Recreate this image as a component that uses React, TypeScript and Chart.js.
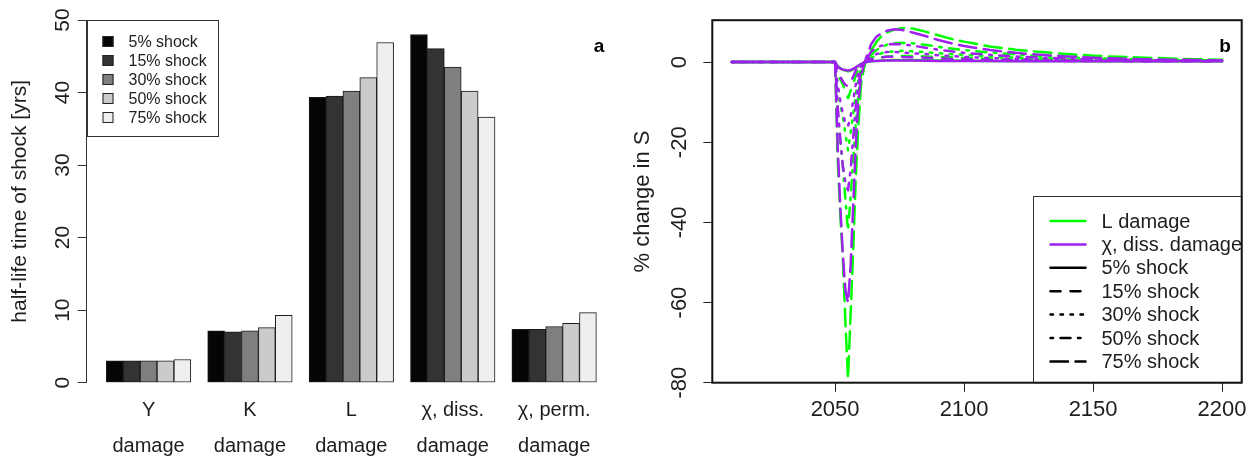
import React, { useEffect, useRef } from "react";
import { Chart, registerables } from "chart.js";

Chart.register(...registerables);

const FONT = "'Liberation Sans', Arial, Helvetica, sans-serif";
const INK = "#1e1e1e";

// ---------------- Panel a: half-life bars ----------------
const damageTypes: string[][] = [
  ["Y", "damage"],
  ["K", "damage"],
  ["L", "damage"],
  ["\u03c7, diss.", "damage"],
  ["\u03c7, perm.", "damage"],
];
const shockLabels = ["5% shock", "15% shock", "30% shock", "50% shock", "75% shock"];
const halfLife5 = [3.0, 7.15, 39.35, 48.0, 7.35];
const halfLife15 = [3.0, 7.0, 39.5, 46.05, 7.35];
const halfLife30 = [3.0, 7.15, 40.2, 43.5, 7.75];
const halfLife50 = [3.0, 7.6, 42.05, 40.2, 8.2];
const halfLife75 = [3.2, 9.3, 46.9, 36.6, 9.65];
const barFills = ["#050505", "#333333", "#7f7f7f", "#cbcbcb", "#efefef"];
const halfLifeTicks = [0, 10, 20, 30, 40, 50];

// ---------------- Panel b: % change in S ----------------
const years = [
  2010, 2050, 2051, 2052, 2053, 2054, 2055, 2056, 2057, 2058, 2059, 2060, 2061, 2062,
  2064, 2066, 2068, 2070, 2073, 2076, 2080, 2085, 2090, 2095, 2100, 2110, 2120, 2130,
  2140, 2150, 2160, 2170, 2180, 2190, 2200,
];
const lDamage75 = [0, 0, -24, -38, -49, -65, -79, -63, -47, -29, -16, -6, -2, 0.5, 3.0, 5.0, 6.5, 7.4, 8.1, 8.5, 8.4, 7.6, 6.7, 5.8, 5.1, 3.9, 3.1, 2.5, 2.0, 1.6, 1.3, 1.1, 0.9, 0.7, 0.6];
const lDamage50 = [0, 0, -12.6, -20, -26, -34.4, -42, -33.6, -25, -15.5, -8.4, -3.4, -1.2, 0.3, 1.8, 3.0, 3.8, 4.3, 4.7, 4.8, 4.7, 4.3, 3.8, 3.4, 3.0, 2.4, 1.9, 1.5, 1.2, 1.0, 0.8, 0.7, 0.6, 0.5, 0.4];
const lDamage30 = [0, 0, -6.6, -10.6, -13.6, -18, -22, -17.6, -13.2, -8.1, -4.4, -1.8, -0.6, 0.2, 1.0, 1.7, 2.2, 2.5, 2.7, 2.8, 2.7, 2.5, 2.2, 2.0, 1.8, 1.4, 1.1, 0.9, 0.7, 0.6, 0.5, 0.4, 0.35, 0.3, 0.3];
const lDamage15 = [0, 0, -2.7, -4.3, -5.6, -7.4, -9, -7.2, -5.4, -3.3, -1.8, -0.7, -0.3, 0.1, 0.5, 0.9, 1.2, 1.4, 1.5, 1.5, 1.5, 1.4, 1.3, 1.2, 1.0, 0.8, 0.7, 0.6, 0.5, 0.4, 0.35, 0.3, 0.3, 0.25, 0.25];
const lDamage5 = [0, 0, -1.0, -1.5, -1.9, -2.1, -2.3, -2.1, -1.8, -1.4, -1.0, -0.5, -0.2, 0.0, 0.2, 0.3, 0.4, 0.45, 0.5, 0.5, 0.5, 0.45, 0.4, 0.4, 0.35, 0.3, 0.3, 0.25, 0.25, 0.2, 0.2, 0.2, 0.2, 0.2, 0.2];
const chiDamage75 = [0, 0, -21, -36, -48, -57, -60, -51, -36, -21, -10, -4, -1, 1, 4.5, 6.3, 7.2, 7.8, 8.2, 8.0, 7.4, 6.5, 5.5, 4.7, 4.0, 3.0, 2.3, 1.8, 1.4, 1.1, 0.9, 0.7, 0.6, 0.5, 0.4];
const chiDamage50 = [0, 0, -11, -19, -26, -30, -32, -27, -19, -11, -5.5, -2.2, -0.6, 0.6, 2.6, 3.6, 4.1, 4.4, 4.5, 4.4, 4.1, 3.6, 3.1, 2.7, 2.3, 1.8, 1.4, 1.1, 0.9, 0.7, 0.6, 0.5, 0.4, 0.35, 0.3];
const chiDamage30 = [0, 0, -5.6, -9.6, -12.8, -15.2, -16, -13.6, -9.6, -5.6, -2.7, -1.1, -0.3, 0.3, 1.4, 2.0, 2.3, 2.5, 2.5, 2.4, 2.2, 2.0, 1.7, 1.5, 1.3, 1.0, 0.8, 0.6, 0.5, 0.4, 0.35, 0.3, 0.3, 0.25, 0.25];
const chiDamage15 = [0, 0, -2.1, -3.6, -4.8, -5.7, -6, -5.1, -3.6, -2.1, -1.0, -0.4, -0.1, 0.1, 0.7, 1.0, 1.2, 1.3, 1.3, 1.3, 1.2, 1.1, 0.9, 0.8, 0.7, 0.55, 0.45, 0.4, 0.3, 0.3, 0.25, 0.2, 0.2, 0.2, 0.2];
const chiDamage5 = [0, 0, -1.1, -1.6, -1.9, -2.0, -2.1, -2.0, -1.7, -1.3, -0.9, -0.5, -0.2, 0.0, 0.2, 0.3, 0.35, 0.4, 0.4, 0.4, 0.4, 0.35, 0.3, 0.3, 0.3, 0.25, 0.2, 0.2, 0.2, 0.2, 0.2, 0.2, 0.2, 0.2, 0.2];
const pctTicks = [-80, -60, -40, -20, 0];
const yearTicks = [2050, 2100, 2150, 2200];
const lColor = "#00ff00";
const chiColor = "#a020f0";
const lineLegend = ["L damage", "\u03c7, diss. damage"];

const LWD = 2.5;
const dashPatterns: number[][] = [
  [],
  [4 * LWD, 4 * LWD],
  [1 * LWD, 3 * LWD],
  [1 * LWD, 3 * LWD, 4 * LWD, 3 * LWD],
  [7 * LWD, 3 * LWD],
];

const panelAExtras = {
  id: "panelAExtras",
  afterDraw(chart: any) {
    const { ctx, chartArea } = chart;
    ctx.save();
    const bx = Math.round(chartArea.left) + 0.5;
    const by = Math.round(chartArea.top) + 0.5;
    const bw = 131;
    const bh = 116;
    ctx.fillStyle = "#ffffff";
    ctx.fillRect(bx, by, bw, bh);
    ctx.strokeStyle = "#333";
    ctx.lineWidth = 1;
    ctx.strokeRect(bx, by, bw, bh);
    ctx.font = `16px ${FONT}`;
    ctx.textBaseline = "middle";
    ctx.textAlign = "left";
    shockLabels.forEach((lab, i) => {
      const y = by + 21 + 19 * i;
      ctx.fillStyle = barFills[i];
      ctx.fillRect(bx + 15, y - 5.5, 11, 11);
      ctx.strokeStyle = "#222";
      ctx.strokeRect(bx + 15.5, y - 5, 10, 10);
      ctx.fillStyle = INK;
      ctx.fillText(lab, bx + 41, y + 1);
    });
    ctx.font = `bold 19px ${FONT}`;
    ctx.textAlign = "center";
    ctx.fillStyle = "#000";
    ctx.fillText("a", 599, 47);
    ctx.restore();
  },
};

const panelBExtras = {
  id: "panelBExtras",
  afterDraw(chart: any) {
    const { ctx, chartArea } = chart;
    const { left, top, right, bottom } = chartArea;
    ctx.save();
    // legend
    const lx = 413.5;
    const ly = 196.5;
    ctx.fillStyle = "#ffffff";
    ctx.fillRect(lx, ly, right - lx, bottom - ly);
    ctx.strokeStyle = "#333";
    ctx.lineWidth = 1;
    ctx.strokeRect(lx, ly, right - lx, bottom - ly);
    ctx.save();
    ctx.beginPath();
    ctx.rect(lx, ly, right - lx, bottom - ly);
    ctx.clip();
    const items = [
      { label: lineLegend[0], color: lColor, dash: dashPatterns[0] },
      { label: lineLegend[1], color: chiColor, dash: dashPatterns[0] },
      ...shockLabels.map((s, i) => ({ label: s, color: "#000", dash: dashPatterns[i] })),
    ];
    ctx.font = `20px ${FONT}`;
    ctx.textBaseline = "middle";
    ctx.textAlign = "left";
    items.forEach((it, i) => {
      const y = 221 + 23.4 * i;
      ctx.strokeStyle = it.color;
      ctx.lineWidth = LWD;
      ctx.lineCap = "round";
      ctx.setLineDash(it.dash);
      ctx.beginPath();
      ctx.moveTo(lx + 17, y);
      ctx.lineTo(lx + 52, y);
      ctx.stroke();
      ctx.setLineDash([]);
      ctx.fillStyle = INK;
      ctx.fillText(it.label, lx + 68, y + 1);
    });
    ctx.restore();
    // box
    ctx.strokeStyle = "#111";
    ctx.lineWidth = 2;
    ctx.setLineDash([]);
    ctx.strokeRect(left, top, right - left, bottom - top);
    ctx.font = `bold 19px ${FONT}`;
    ctx.textAlign = "center";
    ctx.textBaseline = "middle";
    ctx.fillStyle = "#000";
    ctx.fillText("b", 605, 47);
    ctx.restore();
  },
};

export default function App() {
  const leftRef = useRef<HTMLCanvasElement | null>(null);
  const rightRef = useRef<HTMLCanvasElement | null>(null);

  useEffect(() => {
    const halfLifeSeries = [halfLife5, halfLife15, halfLife30, halfLife50, halfLife75];
    const left = new Chart(leftRef.current as HTMLCanvasElement, {
      type: "bar",
      data: {
        datasets: halfLifeSeries.map((vals, s) => ({
          label: shockLabels[s],
          data: vals.map((v, g) => ({ x: g * 6 + s + 1.5, y: v })),
          backgroundColor: barFills[s],
          borderColor: "#1a1a1a",
          borderWidth: 1,
          borderSkipped: false,
          grouped: false,
          barPercentage: 1,
          categoryPercentage: 1,
        })),
      },
      options: {
        responsive: false,
        animation: false,
        devicePixelRatio: 1,
        layout: { padding: { left: 0, right: 4, top: 20, bottom: 0 } },
        plugins: { legend: { display: false }, tooltip: { enabled: false } },
        scales: {
          x: {
            type: "linear",
            offset: false,
            min: -0.16,
            max: 31.16,
            grid: { display: false, drawTicks: false, offset: false },
            border: { display: false },
            afterBuildTicks: (s: any) => {
              s.ticks = damageTypes.map((_, g) => ({ value: g * 6 + 3.5 }));
            },
            ticks: {
              callback: (_v: any, i: number) => damageTypes[i],
              font: { family: FONT, size: 20, lineHeight: 1.835 },
              color: INK,
              padding: 9,
              autoSkip: false,
              maxRotation: 0,
            },
            afterFit: (s: any) => {
              s.height = 76.3;
            },
          },
          y: {
            type: "linear",
            min: 0,
            max: 50,
            afterBuildTicks: (s: any) => {
              s.ticks = halfLifeTicks.map((v) => ({ value: v }));
            },
            grid: { drawOnChartArea: false, drawTicks: true, tickLength: 9, color: "#333" },
            border: { display: true, color: "#333", width: 1 },
            ticks: {
              minRotation: 90,
              maxRotation: 90,
              crossAlign: "center",
              padding: 3,
              autoSkip: false,
              font: { family: FONT, size: 21 },
              color: INK,
            },
            title: {
              display: true,
              text: "half-life time of shock [yrs]",
              font: { family: FONT, size: 21 },
              color: INK,
              padding: { top: 8, bottom: 0 },
            },
            afterFit: (s: any) => {
              s.width = 86.7;
            },
          },
        },
      } as any,
      plugins: [panelAExtras],
    });

    const lSeries = [lDamage5, lDamage15, lDamage30, lDamage50, lDamage75];
    const chiSeries = [chiDamage5, chiDamage15, chiDamage30, chiDamage50, chiDamage75];
    const mk = (arr: number[], color: string, s: number, order: number, name: string) => ({
      label: `${name} ${shockLabels[s]}`,
      data: years.map((x, i) => ({ x, y: arr[i] })),
      borderColor: color,
      backgroundColor: color,
      borderWidth: LWD,
      borderDash: dashPatterns[s],
      borderCapStyle: "round",
      borderJoinStyle: "round",
      pointRadius: 0,
      tension: 0,
      fill: false,
      order,
    });
    const right = new Chart(rightRef.current as HTMLCanvasElement, {
      type: "line",
      data: {
        datasets: [
          ...lSeries.map((a, s) => mk(a, lColor, s, 1, lineLegend[0])),
          ...chiSeries.map((a, s) => mk(a, chiColor, s, 0, lineLegend[1])),
        ],
      },
      options: {
        responsive: false,
        animation: false,
        devicePixelRatio: 1,
        layout: { padding: { left: 0, right: 17.3, top: 19, bottom: 0 } },
        plugins: { legend: { display: false }, tooltip: { enabled: false } },
        scales: {
          x: {
            type: "linear",
            min: 2002.4,
            max: 2207.6,
            afterBuildTicks: (s: any) => {
              s.ticks = yearTicks.map((v) => ({ value: v }));
            },
            grid: { drawOnChartArea: false, drawTicks: true, tickLength: 9, color: "#222" },
            border: { display: false },
            ticks: {
              callback: (v: any) => String(v),
              font: { family: FONT, size: 22 },
              color: INK,
              padding: 5,
              autoSkip: false,
              maxRotation: 0,
            },
            afterFit: (s: any) => {
              s.height = 76.3;
            },
          },
          y: {
            type: "linear",
            min: -80,
            max: 10.45,
            afterBuildTicks: (s: any) => {
              s.ticks = pctTicks.map((v) => ({ value: v }));
            },
            grid: { drawOnChartArea: false, drawTicks: true, tickLength: 9, color: "#222" },
            border: { display: false },
            ticks: {
              minRotation: 90,
              maxRotation: 90,
              crossAlign: "center",
              padding: 7,
              autoSkip: false,
              font: { family: FONT, size: 22 },
              color: INK,
            },
            title: {
              display: true,
              text: "% change in S",
              font: { family: FONT, size: 22 },
              color: INK,
              padding: { top: 10, bottom: 0 },
            },
            afterFit: (s: any) => {
              s.width = 92.3;
            },
          },
        },
      } as any,
      plugins: [panelBExtras],
    });

    return () => {
      left.destroy();
      right.destroy();
    };
  }, []);

  return (
    <div style={{ position: "absolute", left: 0, top: 0, width: 1259, height: 459, background: "#fff" }}>
      <div style={{ position: "absolute", left: 0, top: 0, width: 620, height: 459 }}>
        <canvas ref={leftRef} width={620} height={459} style={{ display: "block" }} />
      </div>
      <div style={{ position: "absolute", left: 620, top: 0, width: 639, height: 459 }}>
        <canvas ref={rightRef} width={639} height={459} style={{ display: "block" }} />
      </div>
    </div>
  );
}
